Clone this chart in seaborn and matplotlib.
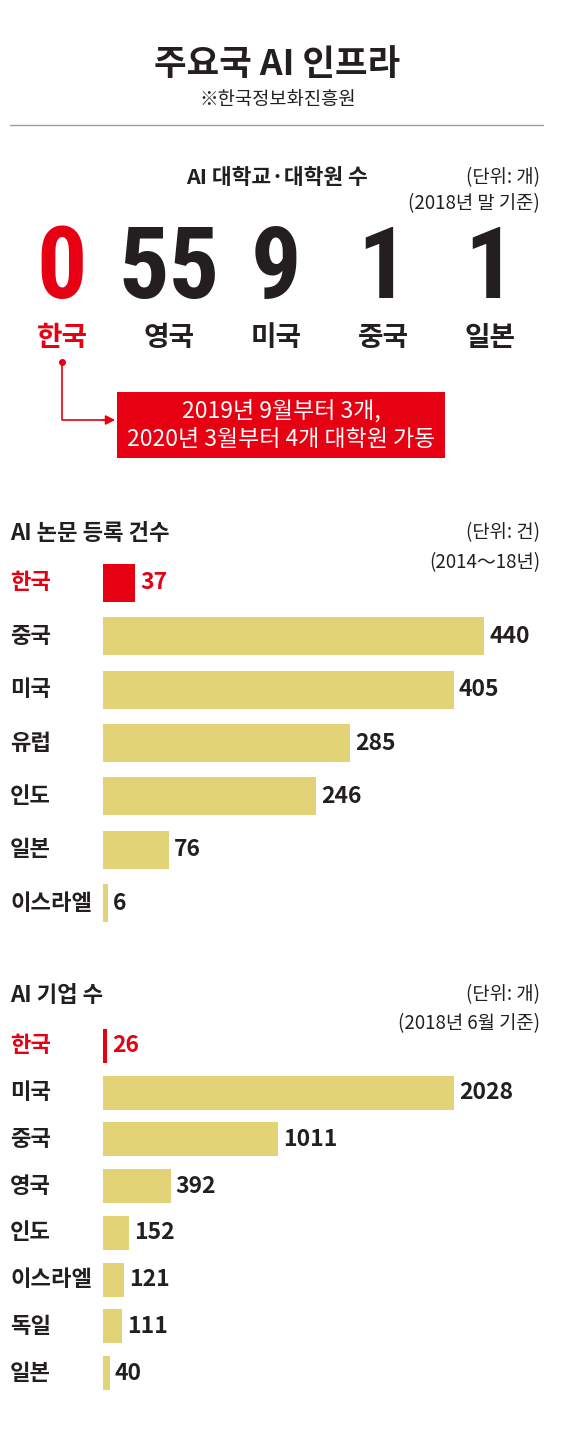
import matplotlib
matplotlib.use('Agg')
import matplotlib.pyplot as plt
import matplotlib.transforms as mtransforms
from matplotlib import font_manager as fm
from matplotlib.patches import Rectangle
import seaborn as sns
import pandas as pd

# ---------------- data ----------------
uni_countries = ['한국', '영국', '미국', '중국', '일본']
uni_counts = [0, 55, 9, 1, 1]

paper_countries = ['한국', '중국', '미국', '유럽', '인도', '일본', '이스라엘']
paper_counts = [37, 440, 405, 285, 246, 76, 6]

firm_countries = ['한국', '미국', '중국', '영국', '인도', '이스라엘', '독일', '일본']
firm_counts = [26, 2028, 1011, 392, 152, 121, 111, 40]

title = '주요국 AI 인프라'
source = '※한국정보화진흥원'
uni_title = 'AI 대학교·대학원 수'
uni_unit = ['(단위: 개)', '(2018년 말 기준)']
uni_note = ['2019년 9월부터 3개,', '2020년 3월부터 4개 대학원 가동']
paper_title = 'AI 논문 등록 건수'
paper_unit = ['(단위: 건)', '(2014～18년)']
firm_title = 'AI 기업 수'
firm_unit = ['(단위: 개)', '(2018년 6월 기준)']

# ---------------- style ----------------
sns.set_theme(style='white')
plt.rcParams['font.family'] = ['Noto Sans CJK KR', 'DejaVu Sans']

RED = '#E60012'
YEL = '#E2D476'
INK = '#231F20'
GREY = '#9B9B9B'
HEAVY = 900

names = {f.name for f in fm.fontManager.ttflist}
if 'Liberation Sans Narrow' in names:
    BIGF, BIGS = 'Liberation Sans Narrow', 74
elif 'Roboto Condensed' in names:
    BIGF, BIGS = 'Roboto Condensed', 72
else:
    BIGF, BIGS = 'Roboto', 62

W, H = 580, 1436
fig = plt.figure(figsize=(W / 100, H / 100), dpi=100)
fig.patch.set_facecolor('white')


def frac_box(x0, y0, x1, y1):
    return [x0 / W, 1 - y1 / H, (x1 - x0) / W, (y1 - y0) / H]


# overlay in pixel coordinates for decorations
ov = fig.add_axes([0, 0, 1, 1])
ov.set_xlim(0, W)
ov.set_ylim(H, 0)
ov.axis('off')

ov.text(277, 65, title, ha='center', va='center', fontsize=25.5, fontweight=HEAVY, color=INK)
ov.text(278, 99, source, ha='center', va='center', fontsize=13.5, color=INK)
ov.plot([10, 543], [125, 125], color=GREY, lw=1)

# ---------------- section 1 ----------------
ov.text(277, 177, uni_title, ha='center', va='center', fontsize=15.5, fontweight=HEAVY, color=INK)
ov.text(540, 178, uni_unit[0], ha='right', va='center', fontsize=13.5, color=INK)
ov.text(540, 204, uni_unit[1], ha='right', va='center', fontsize=13.5, color=INK)

ax1 = fig.add_axes(frac_box(8.5, 130, 543.5, 470))
ax1.set_xlim(-0.5, len(uni_countries) - 0.5)
ax1.set_ylim(470, 130)
ax1.axis('off')
for i, (c, v) in enumerate(zip(uni_countries, uni_counts)):
    col = RED if c == '한국' else INK
    ax1.text(i, 298, str(v), ha='center', va='baseline', fontsize=BIGS,
             fontweight='bold', family=BIGF, color=col)
    ax1.text(i, 338, c, ha='center', va='center', fontsize=20, fontweight=HEAVY, color=col)

# annotation arrow + box
ov.plot([62], [362], 'o', ms=4, color=RED)
ov.plot([62, 62, 106], [362, 420, 420], color=RED, lw=1.2)
ov.annotate('', xy=(118, 420), xytext=(100, 420),
            arrowprops=dict(arrowstyle='-|>', color=RED, lw=1.2, mutation_scale=14))
ov.add_patch(Rectangle((117, 392), 328, 66, facecolor=RED, edgecolor='none'))
ov.text(281, 411, uni_note[0], ha='center', va='center', fontsize=16.5, color='white')
ov.text(281, 440, uni_note[1], ha='center', va='center', fontsize=16.5, color='white')


# ---------------- bar sections ----------------
def bar_section(countries, counts, top_px, bottom_px, xmax, bar_w):
    ax = fig.add_axes(frac_box(103, top_px, 543, bottom_px))
    df = pd.DataFrame({'country': countries, 'count': counts})
    pal = {c: (RED if c == '한국' else YEL) for c in countries}
    sns.barplot(data=df, x='count', y='country', hue='country', palette=pal,
                orient='h', width=bar_w, saturation=1, legend=False,
                linewidth=0, ax=ax)
    ax.set_xlim(0, xmax)
    ax.set_ylim(len(countries) - 0.5, -0.5)
    ax.set_axis_off()
    off = mtransforms.ScaledTranslation(5 / 100, 0, fig.dpi_scale_trans)
    lab_tr = mtransforms.blended_transform_factory(fig.transFigure, ax.transData)
    for i, (c, v) in enumerate(zip(countries, counts)):
        col = RED if c == '한국' else INK
        ax.text(v, i, f'{v}', transform=ax.transData + off, ha='left', va='center',
                fontsize=16.5, fontweight=HEAVY, color=col)
        ax.text(10 / W, i, c, transform=lab_tr, ha='left', va='center',
                fontsize=16, fontweight=HEAVY, color=col)
    return ax


ov.text(10, 534, paper_title, ha='left', va='center', fontsize=16, fontweight=HEAVY, color=INK)
ov.text(540, 533, paper_unit[0], ha='right', va='center', fontsize=13.5, color=INK)
ov.text(540, 563, paper_unit[1], ha='right', va='center', fontsize=13.5, color=INK)
bar_section(paper_countries, paper_counts, 556.3, 929.7, 440 / 0.866, 0.71)

ov.text(10, 996, firm_title, ha='left', va='center', fontsize=16, fontweight=HEAVY, color=INK)
ov.text(540, 995, firm_unit[0], ha='right', va='center', fontsize=13.5, color=INK)
ov.text(540, 1024, firm_unit[1], ha='right', va='center', fontsize=13.5, color=INK)
bar_section(firm_countries, firm_counts, 1022.6, 1396.4, 440 / 0.173, 0.73)

fig.savefig('out.png', dpi=100, facecolor='white')
